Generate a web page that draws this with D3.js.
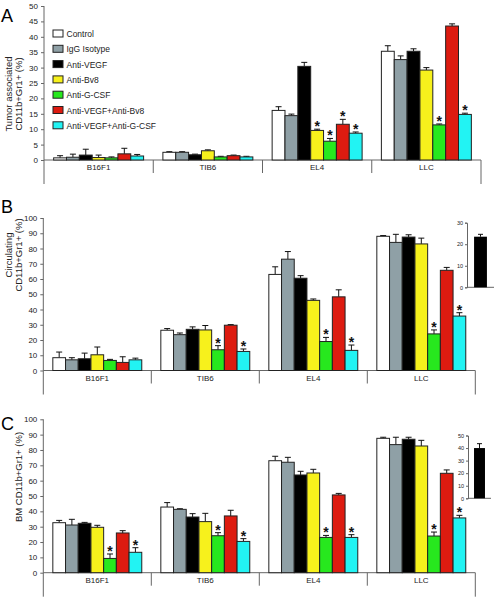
<!DOCTYPE html>
<html><head><meta charset="utf-8">
<script src="https://cdn.jsdelivr.net/npm/d3@7"></script>
<style>
html,body{margin:0;padding:0;background:#fff;}
svg{display:block;font-family:"Liberation Sans",Arial,Helvetica,sans-serif;}
</style></head>
<body><svg id="chart" width="496" height="598"></svg>
<script>
// ---------- DATA ----------
const categories = ["B16F1", "TIB6", "EL4", "LLC"];
const series = ["Control", "IgG Isotype", "Anti-VEGF", "Anti-Bv8", "Anti-G-CSF", "Anti-VEGF+Anti-Bv8", "Anti-VEGF+Anti-G-CSF"];
const seriesColors = ["#ffffff", "#8fa0a6", "#000000", "#f7f11c", "#27e81e", "#dd1b10", "#22f3f3"];

// Panel A: tumor associated CD11b+Gr1+ (%), rows = categories, cols = series
const tumorValues = [
  [0.7, 0.9, 1.6, 0.8, 0.7, 2.0, 1.3],
  [2.5, 2.5, 1.7, 3.0, 1.0, 1.4, 1.0],
  [16.1, 14.4, 30.4, 9.6, 6.1, 11.6, 8.7],
  [35.3, 32.6, 35.3, 29.2, 11.4, 43.5, 14.8]
];
const tumorErrors = [
  [0.7, 1.0, 1.9, 0.8, 0.3, 1.8, 0.5],
  [0.2, 0.2, 0.2, 0.3, 0.2, 0.2, 0.2],
  [1.2, 0.5, 1.3, 0.4, 0.9, 1.6, 0.4],
  [1.8, 1.2, 0.8, 0.8, 0.3, 0.7, 0.4]
];
const tumorStars = [[], [], [3, 4, 5, 6], [4, 6]];

// Panel B: circulating CD11b+Gr1+ (%)
const circValues = [
  [8.4, 7.0, 7.7, 10.3, 6.6, 5.3, 7.0],
  [26.4, 23.5, 27.0, 26.6, 13.6, 29.7, 12.5],
  [63.0, 73.0, 60.5, 46.0, 19.0, 48.3, 13.2],
  [88.0, 84.0, 87.5, 83.0, 24.0, 65.7, 35.7]
];
const circErrors = [
  [3.7, 1.4, 3.7, 5.1, 0.7, 3.7, 1.1],
  [1.1, 1.1, 1.6, 2.9, 2.7, 0.4, 1.6],
  [5.0, 5.0, 1.7, 0.9, 2.7, 4.6, 3.5],
  [0.5, 5.3, 1.5, 3.8, 2.6, 1.9, 2.2]
];
const circStars = [[], [4, 6], [4, 6], [4, 6]];
const circInset = {value: 23.5, error: 1.1};

// Panel C: BM CD11b+Gr1+ (%)
const bmValues = [
  [32.6, 31.1, 32.2, 29.6, 9.3, 25.9, 13.3],
  [42.8, 41.3, 36.3, 33.3, 24.1, 37.0, 20.4],
  [73.0, 72.0, 63.7, 65.0, 23.0, 50.7, 23.0],
  [87.6, 83.5, 87.0, 82.6, 23.9, 64.8, 35.7]
];
const bmErrors = [
  [1.5, 3.7, 0.6, 1.3, 2.9, 1.5, 3.0],
  [2.9, 0.4, 2.2, 5.4, 2.0, 3.7, 1.8],
  [2.9, 3.2, 2.4, 2.4, 1.3, 1.0, 1.8],
  [0.7, 4.8, 1.3, 3.7, 2.6, 2.2, 1.7]
];
const bmStars = [[4, 6], [4, 6], [4, 6], [4, 6]];
const bmInset = {value: 40.0, error: 3.5};

const ticksA = d3.range(0, 51, 5);
const ticksBC = d3.range(0, 101, 10);

// ---------- DRAW ----------
const svg = d3.select("#chart");
const axisColor = "#666";
const textColor = "#222";

function panel(opt) {
  const g = svg.append("g");
  const y = d3.scaleLinear().domain([0, opt.max]).range([opt.y0, opt.y1]);
  const x = d3.scaleBand().domain(categories).range([opt.x0, opt.x1]).padding(0);
  const xi = d3.scaleBand().domain(series).range([0, x.bandwidth()]).paddingInner(0).paddingOuter(0.75);

  // y axis
  const yAxis = d3.axisLeft(y).tickValues(opt.ticks).tickSize(3).tickPadding(3);
  const ya = g.append("g").attr("transform", `translate(${opt.x0},0)`).call(yAxis);
  ya.select(".domain").remove();
  ya.selectAll(".tick line").attr("stroke", axisColor);
  ya.selectAll(".tick text").attr("fill", textColor).style("font-size", "8px").style("font-family", "Liberation Sans, Arial, sans-serif");
  g.append("line").attr("x1", opt.x0).attr("x2", opt.x0).attr("y1", y(opt.max)).attr("y2", opt.y0 + 24)
    .attr("stroke", axisColor).attr("stroke-width", 1);
  // baseline
  g.append("line").attr("x1", opt.x0).attr("x2", opt.x1).attr("y1", opt.y0).attr("y2", opt.y0)
    .attr("stroke", axisColor).attr("stroke-width", 1);
  // category dividers
  categories.forEach((c, i) => {
    if (i === 0) return;
    g.append("line").attr("x1", x(c)).attr("x2", x(c)).attr("y1", opt.y0).attr("y2", opt.y0 + 13)
      .attr("stroke", axisColor);
  });
  g.append("line").attr("x1", opt.x1).attr("x2", opt.x1).attr("y1", opt.y0).attr("y2", opt.y0 + 24)
    .attr("stroke", axisColor);
  // category labels
  g.selectAll("text.cat").data(categories).enter().append("text")
    .attr("x", d => x(d) + x.bandwidth() / 2).attr("y", opt.y0 + 10)
    .attr("text-anchor", "middle").attr("fill", textColor).style("font-size", "8px").text(d => d);

  // bars
  categories.forEach((c, ci) => {
    const cg = g.append("g").attr("transform", `translate(${x(c)},0)`);
    series.forEach((s, si) => {
      const v = opt.values[ci][si], e = opt.errors[ci][si];
      const bx = xi(s), bw = xi.bandwidth();
      const cx = bx + bw / 2;
      // error bar
      cg.append("line").attr("x1", cx).attr("x2", cx).attr("y1", y(v)).attr("y2", y(v + e))
        .attr("stroke", "#111").attr("stroke-width", 1);
      cg.append("line").attr("x1", cx - 3).attr("x2", cx + 3).attr("y1", y(v + e)).attr("y2", y(v + e))
        .attr("stroke", "#111").attr("stroke-width", 1);
      cg.append("rect").attr("x", bx).attr("y", y(v)).attr("width", bw).attr("height", opt.y0 - y(v))
        .attr("fill", seriesColors[si]).attr("stroke", "#222").attr("stroke-width", 1);
      if (opt.stars[ci].includes(si)) {
        cg.append("text").attr("x", cx).attr("y", y(v + e) + 2).attr("text-anchor", "middle")
          .style("font-size", "14px").style("font-weight", "bold").attr("fill", "#111").text("*");
      }
    });
  });

  // axis title
  const tg = g.append("text").attr("transform", `translate(${opt.titleX},${opt.titleY}) rotate(-90)`)
    .attr("text-anchor", "middle").attr("fill", textColor).style("font-size", "9.5px");
  opt.title.forEach((t, i) => {
    tg.append("tspan").attr("x", 0).attr("dy", i === 0 ? 0 : 10).text(t);
  });
  // panel letter
  g.append("text").attr("x", 1).attr("y", opt.letterY).style("font-size", "18px").attr("fill", "#000").text(opt.letter);

  // inset
  if (opt.inset) {
    const ins = opt.inset;
    const yi = d3.scaleLinear().domain([0, ins.max]).range([ins.y0, ins.y1]);
    const xb = d3.scaleBand().domain(["LLC"]).range([ins.x0, ins.x1]).paddingInner(0).paddingOuter(0.55);
    const ia = g.append("g").attr("transform", `translate(${ins.x0},0)`)
      .call(d3.axisLeft(yi).tickValues(d3.range(0, ins.max + 1, 10)).tickSize(2).tickPadding(2));
    ia.select(".domain").attr("stroke", axisColor);
    ia.selectAll(".tick line").attr("stroke", axisColor);
    ia.selectAll(".tick text").attr("fill", textColor).style("font-size", "5.5px").style("font-family", "Liberation Sans, Arial, sans-serif");
    g.append("line").attr("x1", ins.x0).attr("x2", ins.x1).attr("y1", ins.y0).attr("y2", ins.y0).attr("stroke", axisColor);
    const v = ins.data.value, e = ins.data.error;
    const cx = xb("LLC") + xb.bandwidth() / 2;
    g.append("line").attr("x1", cx).attr("x2", cx).attr("y1", yi(v)).attr("y2", yi(v + e)).attr("stroke", "#111");
    g.append("line").attr("x1", cx - 2.5).attr("x2", cx + 2.5).attr("y1", yi(v + e)).attr("y2", yi(v + e)).attr("stroke", "#111");
    g.append("rect").attr("x", xb("LLC")).attr("y", yi(v)).attr("width", xb.bandwidth()).attr("height", ins.y0 - yi(v))
      .attr("fill", "#000");
  }
}

panel({letter: "A", letterY: 22, max: 50, ticks: ticksA, y0: 160, y1: 6, x0: 44, x1: 481,
  values: tumorValues, errors: tumorErrors, stars: tumorStars,
  title: ["Tumor associated", "CD11b+Gr1+ (%)"], titleX: 12, titleY: 94});

panel({letter: "B", letterY: 213, max: 100, ticks: ticksBC, y0: 370.5, y1: 218, x0: 43.3, x1: 475.3,
  values: circValues, errors: circErrors, stars: circStars,
  title: ["Circulating", "CD11b+Gr1+ (%)"], titleX: 12, titleY: 255,
  inset: {max: 30, y0: 287.3, y1: 222.7, x0: 467, x1: 494, data: circInset}});

panel({letter: "C", letterY: 430, max: 100, ticks: ticksBC, y0: 572.7, y1: 419.3, x0: 43.3, x1: 475.3,
  values: bmValues, errors: bmErrors, stars: bmStars,
  title: ["BM CD11b+Gr1+ (%)"], titleX: 22, titleY: 477,
  inset: {max: 50, y0: 498.3, y1: 435.5, x0: 468, x1: 491, data: bmInset}});

// legend
const legend = svg.append("g").attr("transform", "translate(53,30)");
series.forEach((s, i) => {
  const lg = legend.append("g").attr("transform", `translate(0,${i * 15.3})`);
  lg.append("rect").attr("x", 0).attr("y", 0).attr("width", 10).attr("height", 7)
    .attr("fill", seriesColors[i]).attr("stroke", "#222").attr("stroke-width", 1);
  lg.append("text").attr("x", 13.5).attr("y", 7).attr("fill", textColor).style("font-size", "8.5px").text(s);
});
</script></body></html>
